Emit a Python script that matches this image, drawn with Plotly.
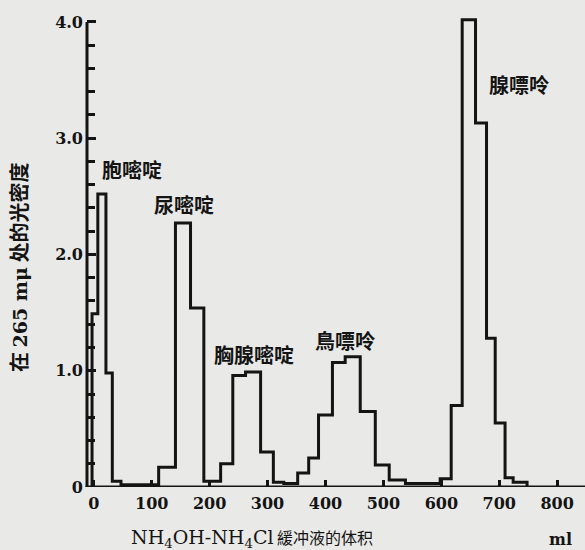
import plotly.graph_objects as go

# Step boundaries (ml of NH4OH-NH4Cl buffer) and optical density at 265 mμ for each fraction
edges_ml = [-3, 7, 21, 32, 47, 112, 141, 167, 190, 219,
            240, 262, 288, 310, 328, 352, 371, 388, 412, 434,
            460, 486, 510, 538, 598, 617, 636, 659, 678, 693,
            710, 724, 748]
od_values = [1.49, 2.52, 0.98, 0.05, 0.02, 0.17, 2.27, 1.54, 0.05, 0.20,
             0.96, 0.99, 0.30, 0.04, 0.03, 0.12, 0.25, 0.62, 1.07, 1.12,
             0.65, 0.19, 0.06, 0.03, 0.07, 0.70, 4.02, 3.13, 1.28, 0.55,
             0.08, 0.04]

peak_names = ["胞嘧啶", "尿嘧啶", "胸腺嘧啶", "鳥嘌呤", "腺嘌呤"]
peak_label_x = [66, 156, 277, 434, 734]
peak_label_y = [2.73, 2.43, 1.14, 1.26, 3.46]

x_tick_vals = [0, 100, 200, 300, 400, 500, 600, 700, 800]
x_tick_text = ["0", "100", "200", "300", "400", "500", "600", "700", "800"]
y_tick_vals = [0, 1, 2, 3, 4]
y_tick_text = ["0", "1.0", "2.0", "3.0", "4.0"]

x_line = [edges_ml[0]] + edges_ml
y_line = [0] + od_values + [0]

BG = "#e9e9e7"
INK = "#141414"
SERIF = "DejaVu Serif, Liberation Serif, serif"
CJK = "Noto Sans CJK SC, Noto Sans CJK TC, sans-serif"

fig = go.Figure()
fig.add_trace(go.Scatter(
    x=x_line, y=y_line, mode="lines",
    line=dict(color=INK, width=3, shape="hv"),
    hoverinfo="skip", showlegend=False,
))

for name, lx, ly in zip(peak_names, peak_label_x, peak_label_y):
    fig.add_annotation(x=lx, y=ly, xref="x", yref="y", text=name, showarrow=False,
                       xanchor="center", yanchor="middle",
                       font=dict(family=CJK, size=20, color=INK, weight="bold"))

# axis lines (y-axis stops at 4.0)
fig.add_shape(type="line", xref="paper", yref="y", x0=0, x1=0, y0=0, y1=4,
              line=dict(color=INK, width=3))
fig.add_shape(type="line", xref="paper", yref="y", x0=-0.003, x1=1, y0=0, y1=0,
              line=dict(color=INK, width=3))

# y-axis title (vertical)
fig.add_annotation(
    x=(18 - 87) / 498, y=(487 - 268) / 472, xref="paper", yref="paper",
    xanchor="center", yanchor="middle",
    text='在 <span style="font-family:DejaVu Serif;font-weight:bold;font-size:19px">265 mμ</span> 处的光密度',
    textangle=-90, showarrow=False,
    font=dict(family=CJK, size=20, color=INK, weight="bold"),
)
# x-axis title
fig.add_annotation(
    x=(252 - 87) / 498, y=(487 - 538) / 472, xref="paper", yref="paper",
    xanchor="center", yanchor="middle",
    text='<span style="font-family:DejaVu Serif;font-size:19px">NH<sub>4</sub>OH-NH<sub>4</sub>Cl</span> 緩冲液的体积',
    showarrow=False,
    font=dict(family=CJK, size=16, color=INK),
)
fig.add_annotation(
    x=(560 - 87) / 498, y=(487 - 539) / 472, xref="paper", yref="paper",
    xanchor="center", yanchor="middle",
    text="ml", showarrow=False,
    font=dict(family=SERIF, size=16, color=INK, weight="bold"),
)

fig.update_layout(
    width=585, height=550,
    margin=dict(l=87, r=0, t=15, b=63),
    paper_bgcolor=BG, plot_bgcolor=BG,
    showlegend=False,
    xaxis=dict(
        range=[-11.7, 848], showline=False, automargin=False,
        showgrid=False, zeroline=False,
        ticks="inside", ticklen=7, tickwidth=2.5, tickcolor=INK,
        tickvals=x_tick_vals, ticktext=x_tick_text,
        tickfont=dict(family=SERIF, size=16, color=INK, weight="bold"),
        ticklabelstandoff=5,
    ),
    yaxis=dict(
        range=[0, 4.06], showline=False, automargin=False,
        showgrid=False, zeroline=False,
        ticks="inside", ticklen=9, tickwidth=2.5, tickcolor=INK,
        tickvals=y_tick_vals, ticktext=y_tick_text,
        minor=dict(dtick=0.2, tick0=0, ticks="inside", ticklen=8, tickwidth=2.5,
                   tickcolor=INK, showgrid=False),
        tickfont=dict(family=SERIF, size=16, color=INK, weight="bold"),
        ticklabelstandoff=3,
    ),
)

fig.write_html("out.html", config={"displayModeBar": False},
               post_script="document.body.style.margin='0';")
